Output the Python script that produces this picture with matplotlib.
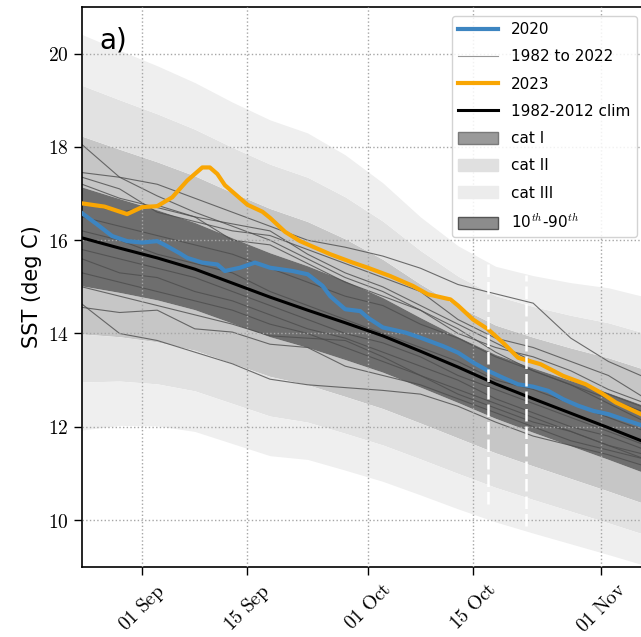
import numpy as np
import pandas as pd
import matplotlib
matplotlib.use('Agg')
import matplotlib.pyplot as plt
import matplotlib.dates as mdates
from matplotlib.lines import Line2D
from matplotlib.patches import Patch

plt.rcParams['mathtext.fontset'] = 'cm'

start = pd.Timestamp('2023-08-24')

# climatology and percentiles, every 5 days from 24 Aug
grid_days = [0, 5, 10, 15, 20, 25, 30, 35, 40, 45, 50, 55, 60, 65, 70, 75]
clim = [16.05, 15.83, 15.62, 15.38, 15.08, 14.78, 14.50, 14.23,
        13.95, 13.62, 13.28, 12.92, 12.60, 12.29, 11.98, 11.66]
p90 = [17.14, 16.89, 16.65, 16.38, 16.05, 15.73, 15.45, 15.13,
       14.77, 14.34, 13.93, 13.55, 13.26, 12.99, 12.73, 12.44]
p10 = [15.02, 14.88, 14.72, 14.51, 14.22, 13.93, 13.70, 13.44,
       13.17, 12.85, 12.52, 12.18, 11.88, 11.59, 11.30, 11.00]

# some of the 1982-2022 years (same day grid)
other_years = [
    [18.05, 17.35, 16.95, 16.60, 16.30, 16.00, 15.60, 15.20, 14.90, 14.50, 14.10, 13.60, 13.20, 12.90, 12.50, 12.10],
    [17.45, 17.35, 17.20, 16.90, 16.60, 16.30, 16.00, 15.85, 15.66, 15.40, 15.05, 14.85, 14.65, 13.90, 13.40, 13.05],
    [17.35, 17.10, 16.60, 16.40, 16.20, 16.10, 15.80, 15.50, 15.20, 14.90, 14.30, 13.90, 13.70, 13.40, 13.10, 12.60],
    [17.20, 16.90, 16.70, 16.50, 16.35, 16.20, 15.70, 15.30, 15.00, 14.60, 14.20, 13.80, 13.40, 13.00, 12.70, 12.40],
    [16.80, 16.60, 16.75, 16.50, 16.00, 15.90, 15.50, 15.10, 14.80, 14.50, 14.00, 13.70, 13.50, 13.20, 12.80, 12.50],
    [16.50, 16.30, 16.10, 15.90, 15.70, 15.40, 15.10, 14.80, 14.60, 14.20, 13.90, 13.50, 13.20, 12.90, 12.60, 12.30],
    [16.20, 16.00, 15.70, 15.50, 15.30, 14.90, 14.60, 14.30, 14.00, 13.70, 13.40, 13.00, 12.80, 12.50, 12.20, 11.90],
    [15.80, 15.60, 15.40, 15.20, 14.90, 14.60, 14.30, 14.00, 13.80, 13.50, 13.10, 12.80, 12.50, 12.20, 11.90, 11.60],
    [15.60, 15.30, 15.20, 14.90, 14.70, 14.40, 14.10, 13.90, 13.60, 13.30, 13.00, 12.60, 12.30, 12.00, 11.80, 11.50],
    [15.30, 15.10, 14.90, 14.70, 14.50, 14.20, 14.00, 13.70, 13.40, 13.10, 12.80, 12.50, 12.20, 11.90, 11.60, 11.30],
    [15.00, 14.80, 14.60, 14.40, 14.20, 13.95, 13.90, 13.85, 13.50, 13.10, 12.70, 12.40, 12.10, 11.90, 11.60, 11.40],
    [14.56, 14.45, 14.50, 14.10, 14.03, 13.77, 13.70, 13.30, 13.10, 12.90, 12.60, 12.30, 12.00, 11.70, 11.50, 11.30],
    [14.63, 14.00, 13.85, 13.60, 13.35, 13.02, 12.90, 12.84, 12.78, 12.70, 12.44, 12.10, 11.80, 11.60, 11.40, 11.15],
]

# 2023
y2023_days = [0, 3, 6, 8, 10, 12, 14, 16, 17, 18, 19, 22, 24, 25, 27, 29, 33, 36, 38,
              41, 44, 46, 49, 50, 52, 54, 56, 58, 61, 64, 67, 69, 71, 75]
y2023 = [16.79, 16.72, 16.56, 16.71, 16.73, 16.92, 17.28, 17.56, 17.56, 17.42, 17.18,
         16.76, 16.61, 16.48, 16.18, 15.98, 15.70, 15.52, 15.41, 15.23, 15.02, 14.84,
         14.73, 14.60, 14.30, 14.09, 13.80, 13.48, 13.34, 13.09, 12.91, 12.73, 12.52, 12.22]

# 2020
y2020_days = [0, 2, 4, 6, 8, 10, 11, 13, 14, 16, 18, 19, 21, 23, 25, 28, 30, 32, 33, 34,
              35, 37, 38, 40, 43, 45, 48, 50, 52, 54, 56, 58, 60, 62, 64, 66, 68, 70, 72, 75]
y2020 = [16.58, 16.34, 16.09, 15.98, 15.95, 15.98, 15.90, 15.72, 15.62, 15.52, 15.48, 15.34,
         15.41, 15.52, 15.41, 15.34, 15.27, 15.02, 14.80, 14.66, 14.52, 14.48, 14.34,
         14.13, 14.02, 13.91, 13.73, 13.59, 13.38, 13.20, 13.05, 12.91, 12.86, 12.77,
         12.59, 12.45, 12.34, 12.27, 12.16, 12.00]

# event markers
event_days = [54, 59]
event_low = [10.34, 9.87]
event_high = [15.53, 15.25]


def to_dates(days):
    return start + pd.to_timedelta(days, unit='D')


fig = plt.figure(figsize=(6.41, 6.37), dpi=100)
ax = fig.add_axes([82 / 641, 1 - 566.7 / 637, 564 / 641, 559.7 / 637])

x = to_dates(grid_days)
c = np.array(clim)
up = np.array(p90) - c
dn = c - np.array(p10)

# category bands
shades = ['#c6c6c6', '#e2e2e2', '#efefef']
for n, col in zip([1, 2, 3], shades):
    ax.fill_between(x, c + n * up, c + (n + 1) * up, color=col, lw=0, zorder=1)
    ax.fill_between(x, c - (n + 1) * dn, c - n * dn, color=col, lw=0, zorder=1)
ax.fill_between(x, p10, p90, color='#6e6e6e', lw=0, zorder=1)

for yr in other_years:
    ax.plot(x, yr, color='0.3', lw=0.8, alpha=0.8, zorder=2)

ax.plot(to_dates(y2020_days), y2020, color='#3d85c1', lw=3, zorder=4)
ax.plot(to_dates(y2023_days), y2023, color='#f9a603', lw=3, zorder=4)
ax.plot(x, clim, color='k', lw=2.2, zorder=4)

ax.vlines(to_dates(event_days), event_low, event_high, colors='white',
          linestyles=(0, (5, 2)), lw=1.8, zorder=6)

ax.set_xlim(start, start + pd.Timedelta(days=75))
ax.set_ylim(9, 21)
ax.set_yticks([10, 12, 14, 16, 18, 20])
ax.yaxis.set_major_formatter(plt.FuncFormatter(lambda v, p: r'$\mathrm{%d}$' % v))
ax.xaxis.set_major_locator(mdates.DayLocator(bymonthday=[1, 15]))
ax.xaxis.set_major_formatter(plt.FuncFormatter(
    lambda v, p: r'$\mathrm{%s}$' % mdates.num2date(v).strftime('%d\\ %b')))
ax.tick_params(labelsize=14, length=6, width=1)
plt.setp(ax.get_xticklabels(), rotation=45)
ax.set_axisbelow(False)
ax.grid(True, ls=':', color='0.65', lw=1)
for s in ax.spines.values():
    s.set_linewidth(1.2)

ax.set_ylabel('SST (deg C)', fontsize=15)
ax.text(0.03, 0.965, 'a)', transform=ax.transAxes, fontsize=20, va='top', ha='left')

handles = [Line2D([], [], color='#3d85c1', lw=3),
           Line2D([], [], color='0.6', lw=0.8),
           Line2D([], [], color='#f9a603', lw=3),
           Line2D([], [], color='k', lw=2.2),
           Patch(facecolor='#9a9a9a', edgecolor='#7a7a7a'),
           Patch(facecolor='#e0e0e0', edgecolor='#e0e0e0'),
           Patch(facecolor='#ececec', edgecolor='#ececec'),
           Patch(facecolor='#8c8c8c', edgecolor='#555555')]
labels = ['2020', '1982 to 2022', '2023', '1982-2012 clim', 'cat I', 'cat II',
          'cat III', r'10$^{th}$-90$^{th}$']
ax.legend(handles, labels, loc='upper right', fontsize=11, handlelength=2.6,
          handleheight=0.8, handletextpad=0.9, labelspacing=0.8,
          borderaxespad=0.6, framealpha=0.85)

fig.savefig('out.png', dpi=100)
